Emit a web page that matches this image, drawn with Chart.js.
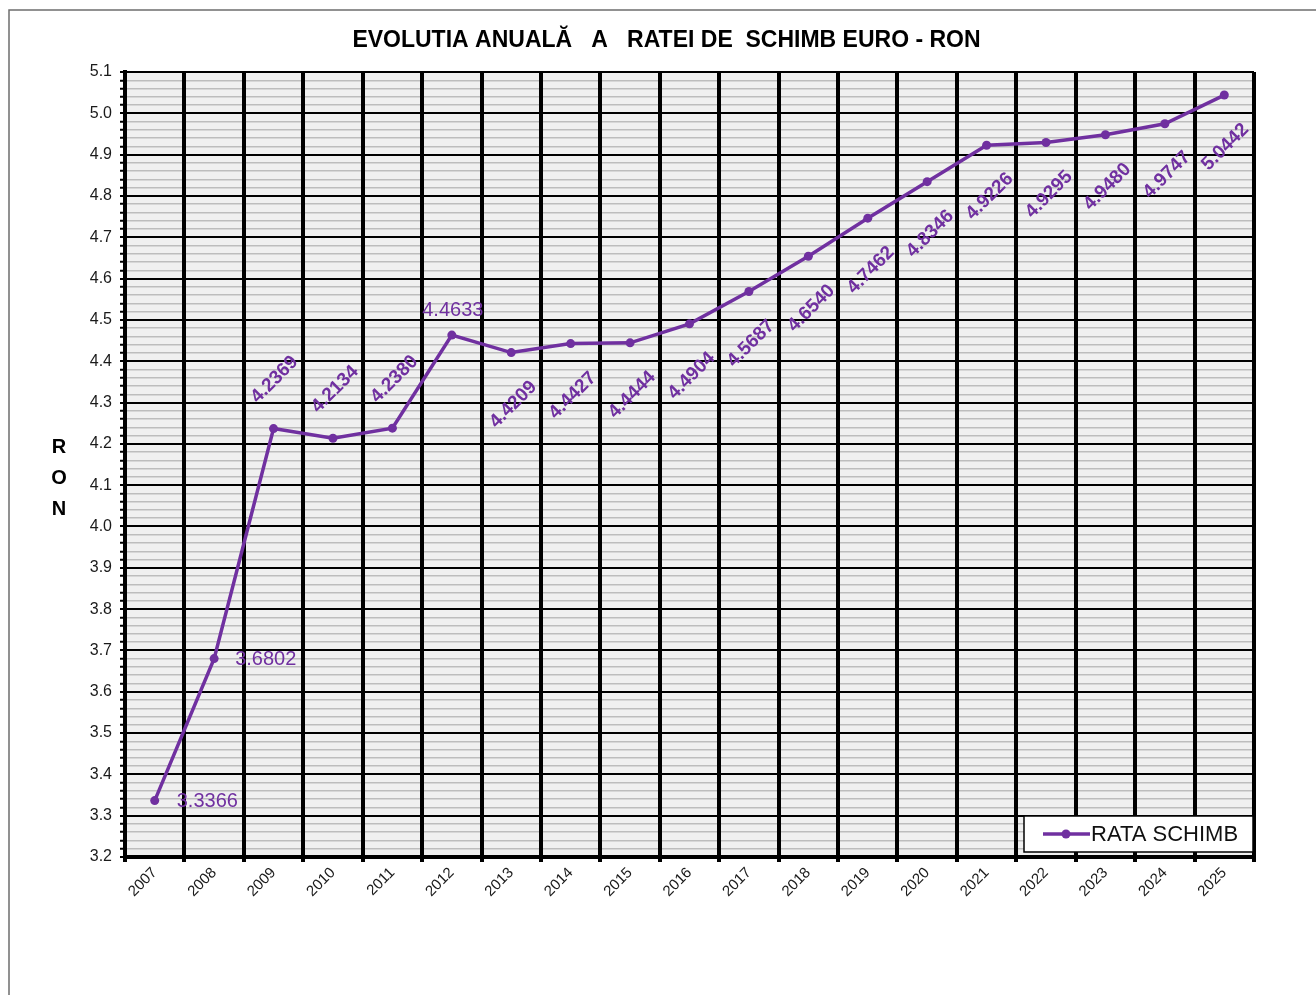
<!DOCTYPE html>
<html>
<head>
<meta charset="utf-8">
<title>Evolutia anuala a ratei de schimb EURO - RON</title>
<script src="https://cdn.jsdelivr.net/npm/chart.js@4.4.1/dist/chart.umd.min.js"></script>
<style>
  html, body { margin: 0; padding: 0; background: #fff; }
  #wrap { position: relative; width: 1316px; height: 995px; }
</style>
</head>
<body>
<div id="wrap"><canvas id="rateChart"></canvas></div>
<script>
const years = ['2007', '2008', '2009', '2010', '2011', '2012', '2013', '2014', '2015', '2016',
  '2017', '2018', '2019', '2020', '2021', '2022', '2023', '2024', '2025'];
const rates = [3.3366, 3.6802, 4.2369, 4.2134, 4.2380, 4.4633, 4.4209, 4.4427, 4.4444, 4.4904,
  4.5687, 4.6540, 4.7462, 4.8346, 4.9226, 4.9295, 4.9480, 4.9747, 5.0442];
const yMajorTicks = [3.2, 3.3, 3.4, 3.5, 3.6, 3.7, 3.8, 3.9, 4.0, 4.1, 4.2, 4.3, 4.4, 4.5, 4.6, 4.7, 4.8, 4.9, 5.0, 5.1];
const seriesName = 'RATA SCHIMB';
const chartTitle = 'EVOLUTIA ANUALĂ   A   RATEI DE  SCHIMB EURO - RON';
const axisTitle = ['R', 'O', 'N'];

const purple = '#7030A0';

// where each value label sits relative to its point (like the Excel original)
const labelPlacement = [
  { dx: 22, dy: 1, angle: 0, align: 'left' },
  { dx: 21, dy: 1, angle: 0, align: 'left' },
  { dx: 1, dy: -49, angle: -45 },
  { dx: 2, dy: -49, angle: -45 },
  { dx: 2, dy: -49, angle: -45 },
  { dx: 1, dy: -25, angle: 0 },
  { dx: 2, dy: 52, angle: -45 },
  { dx: 2, dy: 52, angle: -45 },
  { dx: 2, dy: 52, angle: -45 },
  { dx: 2, dy: 52, angle: -45 },
  { dx: 2, dy: 52, angle: -45 },
  { dx: 3, dy: 52, angle: -45 },
  { dx: 3, dy: 52, angle: -45 },
  { dx: 3, dy: 52, angle: -45 },
  { dx: 3, dy: 51, angle: -45 },
  { dx: 3, dy: 52, angle: -45 },
  { dx: 2, dy: 52, angle: -45 },
  { dx: 2, dy: 51, angle: -45 },
  { dx: 1, dy: 52, angle: -45 }
];

function isMajor(v) {
  return yMajorTicks.some(m => Math.abs(m - v) < 1e-6);
}

const frameAndBackground = {
  id: 'frameAndBackground',
  beforeDraw(chart) {
    const { ctx, chartArea: a, width, height } = chart;
    ctx.save();
    ctx.fillStyle = '#f0f0f0';
    ctx.fillRect(a.left, a.top, a.right - a.left, a.bottom - a.top);
    ctx.strokeStyle = '#6e6e6e';
    ctx.lineWidth = 1.5;
    ctx.beginPath();
    ctx.moveTo(9, height);
    ctx.lineTo(9, 10);
    ctx.lineTo(width, 10);
    ctx.stroke();
    ctx.restore();
  }
};

// title and the stacked "R O N" axis name
const chartTexts = {
  id: 'chartTexts',
  afterDraw(chart) {
    const { ctx, chartArea: a } = chart;
    ctx.save();
    ctx.fillStyle = '#000';
    ctx.textAlign = 'center';
    ctx.textBaseline = 'middle';
    ctx.font = 'bold 23px Arial, "Liberation Sans", sans-serif';
    ctx.fillText(chartTitle, (a.left + a.right) / 2 - 23, 41);
    const mid = (a.top + a.bottom) / 2 + 14;
    ctx.font = 'bold 20px Arial, "Liberation Sans", sans-serif';
    axisTitle.forEach((ch, i) => ctx.fillText(ch, 59, mid + (i - 1) * 31));
    ctx.restore();
  }
};

const valueLabels = {
  id: 'valueLabels',
  afterDatasetsDraw(chart) {
    const { ctx } = chart;
    const meta = chart.getDatasetMeta(0);
    ctx.save();
    ctx.fillStyle = purple;
    ctx.textBaseline = 'middle';
    meta.data.forEach((pt, i) => {
      const p = labelPlacement[i];
      const text = rates[i].toFixed(4);
      ctx.save();
      ctx.translate(pt.x + p.dx, pt.y + p.dy);
      if (p.angle) {
        ctx.rotate(p.angle * Math.PI / 180);
        ctx.font = 'bold 19px Arial, "Liberation Sans", sans-serif';
      } else {
        ctx.font = '20px Arial, "Liberation Sans", sans-serif';
      }
      ctx.textAlign = p.align || 'center';
      ctx.fillText(text, 0, 0);
      ctx.restore();
    });
    ctx.restore();
  }
};

const legendBox = {
  id: 'legendBox',
  afterDraw(chart) {
    const { ctx, chartArea: a } = chart;
    const w = 229, h = 36;
    const x = a.right - w - 1, y = a.bottom - h - 5;
    ctx.save();
    ctx.fillStyle = '#fff';
    ctx.fillRect(x, y, w, h);
    ctx.strokeStyle = '#000';
    ctx.lineWidth = 1.5;
    ctx.strokeRect(x, y, w, h);
    const ly = y + h / 2;
    ctx.strokeStyle = purple;
    ctx.lineWidth = 3.5;
    ctx.beginPath();
    ctx.moveTo(x + 19, ly);
    ctx.lineTo(x + 66, ly);
    ctx.stroke();
    ctx.fillStyle = purple;
    ctx.beginPath();
    ctx.arc(x + 42, ly, 4.5, 0, Math.PI * 2);
    ctx.fill();
    ctx.fillStyle = '#111';
    ctx.font = '22px Arial, "Liberation Sans", sans-serif';
    ctx.textBaseline = 'middle';
    ctx.textAlign = 'left';
    ctx.fillText(seriesName, x + 67, ly + 1);
    ctx.restore();
  }
};

Chart.defaults.font.family = 'Arial, "Liberation Sans", sans-serif';

new Chart(document.getElementById('rateChart'), {
  type: 'line',
  data: {
    labels: years,
    datasets: [{
      label: seriesName,
      data: rates,
      borderColor: purple,
      backgroundColor: purple,
      borderWidth: 3.5,
      pointRadius: 4.5,
      pointBackgroundColor: purple,
      pointBorderWidth: 0,
      tension: 0,
      fill: false
    }]
  },
  options: {
    responsive: true,
    maintainAspectRatio: false,
    animation: false,
    layout: { padding: { left: 0, top: 72, right: 62, bottom: 0 } },
    plugins: {
      legend: { display: false },
      tooltip: { enabled: false },
      title: { display: false }
    },
    scales: {
      x: {
        type: 'category',
        offset: true,
        grid: { offset: true, color: '#000', lineWidth: 4, tickLength: 5, z: -1 },
        border: { color: '#000', width: 4 },
        ticks: { color: '#1a1a1a', font: { size: 15 }, minRotation: 45, maxRotation: 45, padding: 2, autoSkip: false },
        afterFit(scale) { scale.height = 138; }
      },
      y: {
        min: 3.2,
        max: 5.1,
        grid: {
          z: -2,
          color: ctx => isMajor(ctx.tick.value) ? '#000' : '#bdbdbd',
          lineWidth: ctx => isMajor(ctx.tick.value) ? 2 : 1.5,
          tickColor: '#000',
          tickWidth: 2,
          tickLength: 5
        },
        border: { color: '#000', width: 4 },
        ticks: {
          stepSize: 0.02,
          autoSkip: false,
          color: '#1a1a1a',
          font: { size: 16 },
          padding: 8,
          callback: v => isMajor(v) ? v.toFixed(1) : ''
        },
        afterFit(scale) { scale.width = 125; }
      }
    }
  },
  plugins: [frameAndBackground, valueLabels, chartTexts, legendBox]
});
</script>
</body>
</html>
